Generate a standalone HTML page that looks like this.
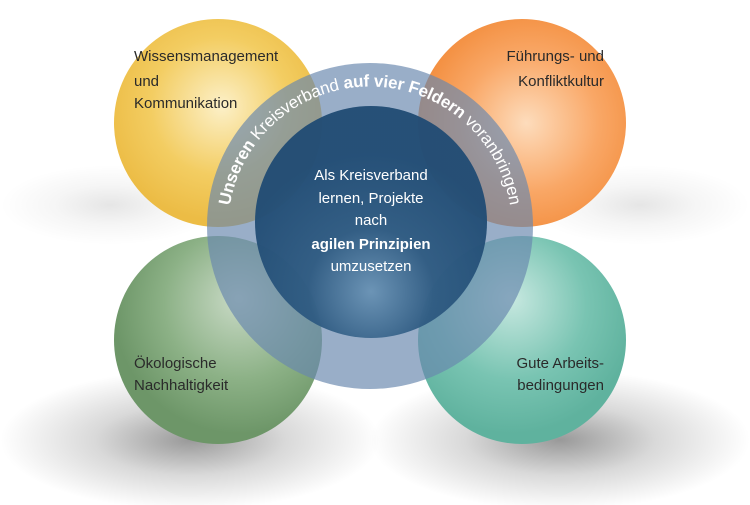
<!DOCTYPE html>
<html><head><meta charset="utf-8"><style>
html,body{margin:0;padding:0;background:#fff;}
svg{display:block;font-family:"Liberation Sans",sans-serif;}
</style></head><body>
<svg width="750" height="505" viewBox="0 0 750 505" xmlns="http://www.w3.org/2000/svg">
<defs>
<radialGradient id="sh" cx="50%" cy="50%" r="50%">
<stop offset="0" stop-color="#000" stop-opacity="0.4"/>
<stop offset="0.5" stop-color="#000" stop-opacity="0.15"/>
<stop offset="1" stop-color="#000" stop-opacity="0"/>
</radialGradient>
<radialGradient id="gy" cx="0.5" cy="0.42" r="0.55" fx="0.52" fy="0.42">
<stop offset="0" stop-color="#fcf0c8"/><stop offset="0.6" stop-color="#f3cd62"/><stop offset="1" stop-color="#ecbc45"/>
</radialGradient>
<radialGradient id="go" cx="0.55" cy="0.5" r="0.55" fx="0.52" fy="0.5">
<stop offset="0" stop-color="#fddcbc"/><stop offset="0.6" stop-color="#f9a766"/><stop offset="1" stop-color="#f38f40"/>
</radialGradient>
<radialGradient id="gg" cx="0.6" cy="0.35" r="0.6" fx="0.6" fy="0.3">
<stop offset="0" stop-color="#c9dac6"/><stop offset="0.6" stop-color="#8cb186"/><stop offset="1" stop-color="#6d9668"/>
</radialGradient>
<radialGradient id="gt" cx="0.45" cy="0.35" r="0.6" fx="0.45" fy="0.3">
<stop offset="0" stop-color="#c7e8e0"/><stop offset="0.6" stop-color="#79c4b2"/><stop offset="1" stop-color="#5fb29e"/>
</radialGradient>
<radialGradient id="gd" cx="0.5" cy="0.8" r="0.6">
<stop offset="0" stop-color="#6a93b5"/><stop offset="0.45" stop-color="#2f5b82"/><stop offset="1" stop-color="#214c74"/>
</radialGradient>
<path id="arc" d="M 232 262 A 142 142 0 1 1 508 262"/>
</defs>
<ellipse cx="190" cy="440" rx="190" ry="70" fill="url(#sh)"/>
<ellipse cx="560" cy="440" rx="190" ry="70" fill="url(#sh)"/>
<ellipse cx="110" cy="205" rx="110" ry="40" fill="url(#sh)" opacity="0.25"/>
<ellipse cx="640" cy="205" rx="110" ry="40" fill="url(#sh)" opacity="0.25"/>
<circle cx="218" cy="123" r="104" fill="url(#gy)"/>
<circle cx="522" cy="123" r="104" fill="url(#go)"/>
<circle cx="218" cy="340" r="104" fill="url(#gg)"/>
<circle cx="522" cy="340" r="104" fill="url(#gt)"/>
<circle cx="370" cy="226" r="163" fill="#6888ae" fill-opacity="0.68"/>
<circle cx="371" cy="222" r="116" fill="url(#gd)" fill-opacity="0.96"/>
<text font-size="17" fill="#fff"><textPath href="#arc" startOffset="50%" text-anchor="middle" textLength="400" lengthAdjust="spacing"><tspan font-weight="bold">Unseren</tspan> Kreisverband <tspan font-weight="bold">auf vier Feldern</tspan> voranbringen</textPath></text>
<g font-size="15" fill="#2a2a2a">
<text x="134" y="61">Wissensmanagement</text>
<text x="134" y="86">und</text>
<text x="134" y="108">Kommunikation</text>
<text x="604" y="61" text-anchor="end">Führungs- und</text>
<text x="604" y="86" text-anchor="end">Konfliktkultur</text>
<text x="134" y="368">Ökologische</text>
<text x="134" y="390">Nachhaltigkeit</text>
<text x="604" y="368" text-anchor="end">Gute Arbeits-</text>
<text x="604" y="390" text-anchor="end">bedingungen</text>
</g>
<g font-size="15" fill="#fff" text-anchor="middle">
<text x="371" y="180">Als Kreisverband</text>
<text x="371" y="203">lernen, Projekte</text>
<text x="371" y="225">nach</text>
<text x="371" y="249" font-weight="bold">agilen Prinzipien</text>
<text x="371" y="271">umzusetzen</text>
</g>
</svg>
</body></html>
